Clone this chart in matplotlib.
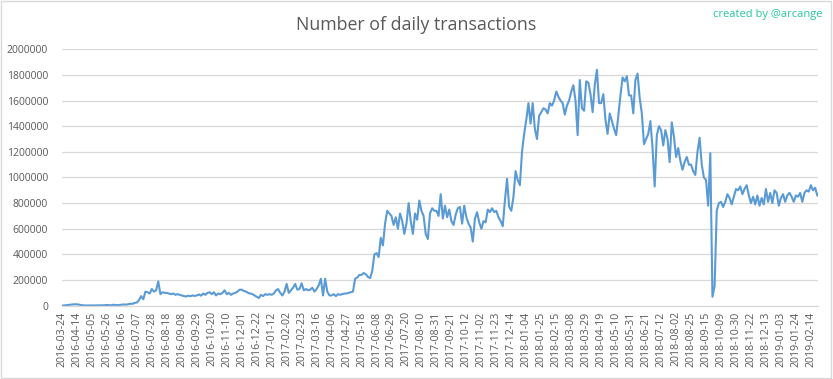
import numpy as np
import matplotlib.pyplot as plt
from matplotlib.patches import Rectangle

# tick labels, one every 21 data rows (category axis)
tick_labels = [
    "2016-03-24", "2016-04-14", "2016-05-05", "2016-05-26", "2016-06-16",
    "2016-07-07", "2016-07-28", "2016-08-18", "2016-09-08", "2016-09-29",
    "2016-10-20", "2016-11-10", "2016-12-01", "2016-12-22", "2017-01-12",
    "2017-02-02", "2017-02-23", "2017-03-16", "2017-04-06", "2017-04-27",
    "2017-05-18", "2017-06-08", "2017-06-29", "2017-07-20", "2017-08-10",
    "2017-08-31", "2017-09-21", "2017-10-12", "2017-11-02", "2017-11-23",
    "2017-12-14", "2018-01-04", "2018-01-25", "2018-02-15", "2018-03-08",
    "2018-03-29", "2018-04-19", "2018-05-10", "2018-05-31", "2018-06-21",
    "2018-07-12", "2018-08-02", "2018-08-25", "2018-09-15", "2018-10-09",
    "2018-10-30", "2018-11-22", "2018-12-13", "2019-01-03", "2019-01-24",
    "2019-02-14",
]
label_step = 21

# daily transactions, every 3rd row (one line per label interval)
tx_sample_step = 3
tx_2016 = [
    1000, 2000, 4000, 6000, 8000, 10000, 11000,
    11000, 8000, 5000, 3000, 2000, 2000, 2000,
    2000, 2000, 2000, 3000, 3000, 3000, 4000,
    6000, 4000, 3000, 8000, 5000, 4000, 6000,
    8000, 10000, 8000, 12000, 15000, 15000, 22000,
    25000, 45000, 75000, 50000, 110000, 105000, 95000,
    130000, 110000, 120000, 190000, 90000, 105000, 100000,
    100000, 95000, 90000, 95000, 85000, 90000, 85000,
    80000, 75000, 72000, 78000, 74000, 80000, 76000,
    80000, 88000, 78000, 95000, 85000, 100000, 105000,
    90000, 105000, 80000, 95000, 90000, 100000, 120000,
    90000, 100000, 85000, 95000, 100000, 110000, 125000,
    125000, 115000, 110000, 100000, 95000, 90000, 80000,
    70000, 60000, 85000, 75000, 90000, 85000, 90000,
]
tx_2017 = [
    85000, 95000, 120000, 130000, 100000, 80000, 110000,
    170000, 100000, 120000, 140000, 170000, 125000, 130000,
    175000, 120000, 130000, 120000, 125000, 140000, 110000,
    130000, 160000, 210000, 80000, 210000, 110000, 80000,
    80000, 90000, 75000, 90000, 85000, 90000, 95000,
    95000, 100000, 105000, 110000, 210000, 220000, 240000,
    240000, 255000, 245000, 225000, 215000, 270000, 400000,
    410000, 380000, 530000, 470000, 640000, 740000, 720000,
    700000, 630000, 690000, 600000, 720000, 660000, 560000,
    640000, 800000, 660000, 560000, 720000, 670000, 820000,
    740000, 700000, 560000, 520000, 720000, 760000, 740000,
    740000, 700000, 870000, 680000, 780000, 690000, 750000,
    660000, 630000, 710000, 760000, 770000, 640000, 780000,
    690000, 640000, 610000, 500000, 680000, 730000, 650000,
    600000, 660000, 650000, 750000, 730000, 760000, 730000,
    740000, 690000, 660000, 620000, 820000, 990000, 770000,
    740000, 850000, 1050000, 980000, 940000, 1200000, 1340000,
]
tx_2018 = [
    1450000, 1580000, 1420000, 1580000, 1380000, 1300000, 1480000,
    1510000, 1540000, 1530000, 1500000, 1580000, 1560000, 1600000,
    1670000, 1630000, 1600000, 1580000, 1490000, 1560000, 1600000,
    1670000, 1720000, 1600000, 1330000, 1760000, 1540000, 1520000,
    1750000, 1740000, 1650000, 1510000, 1720000, 1840000, 1580000,
    1580000, 1650000, 1450000, 1340000, 1500000, 1440000, 1380000,
    1330000, 1480000, 1640000, 1780000, 1750000, 1790000, 1640000,
    1640000, 1500000, 1760000, 1810000, 1620000, 1500000, 1260000,
    1300000, 1340000, 1440000, 1230000, 930000, 1330000, 1400000,
    1370000, 1250000, 1370000, 1300000, 1120000, 1430000, 1320000,
    1160000, 1230000, 1130000, 1060000, 1120000, 1160000, 1100000,
    1100000, 1050000, 1020000, 1200000, 1310000, 1100000, 1000000,
    980000, 780000, 1190000, 70000, 150000, 740000, 800000,
    810000, 770000, 810000, 870000, 840000, 790000, 850000,
    910000, 900000, 930000, 870000, 910000, 940000, 860000,
    800000, 850000, 790000, 860000, 780000, 840000, 790000,
]
tx_2019 = [
    910000, 810000, 880000, 800000, 900000, 880000, 780000,
    840000, 870000, 810000, 860000, 880000, 850000, 810000,
    860000, 850000, 880000, 810000, 880000, 900000, 890000,
    940000, 900000, 920000, 860000,
]
transactions = tx_2016 + tx_2017 + tx_2018 + tx_2019
rows = np.arange(len(transactions)) * tx_sample_step

font = "Open Sans"
grey = "#595959"
grid_grey = "#D9D9D9"

fig = plt.figure(figsize=(8.33, 3.79), dpi=100)
ax = fig.add_axes([0.0744, 0.1934, 0.9076, 0.6766])

ax.plot(rows, transactions, color="#5B9BD5", linewidth=1.5, solid_joinstyle="round")

ax.set_xlim(0, 1060)
ax.set_ylim(0, 2000000)
ax.set_yticks(np.arange(0, 2000001, 200000))
ax.set_yticklabels([str(v) for v in range(0, 2000001, 200000)],
                   fontsize=7.5, color=grey, family=font)
ax.set_xticks(np.arange(len(tick_labels)) * label_step)
ax.set_xticklabels(tick_labels, rotation=90, fontsize=7.7, color=grey, family=font)
ax.tick_params(length=0, pad=4)
ax.tick_params(axis="y", pad=10)

ax.grid(axis="y", color=grid_grey, linewidth=0.9)
ax.set_axisbelow(True)
for side in ["top", "right", "left"]:
    ax.spines[side].set_visible(False)
ax.spines["bottom"].set_color(grid_grey)
ax.spines["bottom"].set_linewidth(0.9)

fig.text(0.5, 0.935, "Number of daily transactions", ha="center", va="center",
         fontsize=12.8, color=grey, family=font)
fig.text(0.987, 0.962, "created by @arcange", ha="right", va="center",
         fontsize=8, color="#26C6A0", family=font)

# chart area border
fig.patches.append(Rectangle((0.001, 0.002), 0.997, 0.995, transform=fig.transFigure,
                             fill=False, edgecolor=grid_grey, linewidth=1))

fig.savefig("out.png", dpi=100)
